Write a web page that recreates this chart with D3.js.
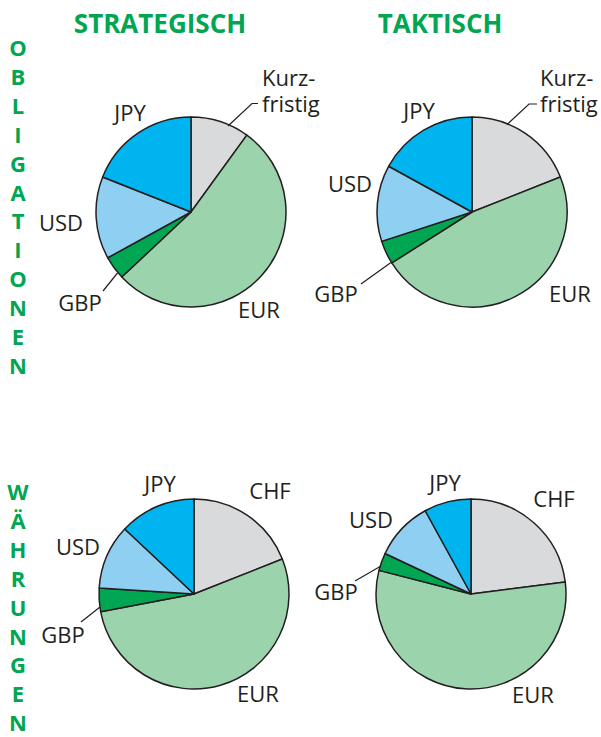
<!DOCTYPE html>
<meta charset="utf-8">
<style>
body { margin:0; background:#fff; }
text { font-family: "Open Sans", sans-serif; fill:#231f20; }
.head { font-weight:bold; fill:#00a651; }
.slice { stroke:#231f20; stroke-width:1.5; stroke-linejoin:round; }
.leader { fill:none; stroke:#231f20; stroke-width:1.2; }
</style>
<body>
<script src="https://cdn.jsdelivr.net/npm/d3@7"></script>
<script>

var width = 601, height = 737;

// slices clockwise from 12 o'clock
var bondKeys = ["Kurzfristig","EUR","GBP","USD","JPY"];
var fxKeys   = ["CHF","EUR","GBP","USD","JPY"];
var bondStrat = [10, 53, 4, 14, 19];
var bondTakt  = [19, 47, 4, 13, 17];
var fxStrat   = [19, 53, 4, 11, 13];
var fxTakt    = [23, 56, 3, 10, 8];

var columnTitles = ["STRATEGISCH","TAKTISCH"];
var rowTitles = ["OBLIGATIONEN","WÄHRUNGEN"];

var colors = {
    Kurzfristig:"#d9dadb", CHF:"#d9dadb",
    EUR:"#9bd3ad", GBP:"#00a651", USD:"#8ecff2", JPY:"#00b5ef"
};

// layout: centres, label anchors, leader lines
var pies = [
  {keys:bondKeys, values:bondStrat, cx:191, cy:212,
   labels:[{t:["Kurz-","fristig"],x:262,y:86,a:"start"},
           {t:["JPY"],x:130,y:121},{t:["USD"],x:61,y:231},{t:["GBP"],x:80,y:311},{t:["EUR"],x:259,y:318}],
   leaders:[[[258,103.5],[252,103.5],[228,126]],[[103,291],[117.5,273]]]},
  {keys:bondKeys, values:bondTakt, cx:472, cy:212,
   labels:[{t:["Kurz-","fristig"],x:540,y:86,a:"start"},
           {t:["JPY"],x:419,y:119},{t:["USD"],x:350,y:192},{t:["GBP"],x:336,y:302},{t:["EUR"],x:570,y:302}],
   leaders:[[[537,104],[529,104],[507,124.5]],[[361,284],[391,262.5]]]},
  {keys:fxKeys, values:fxStrat, cx:194, cy:594,
   labels:[{t:["JPY"],x:160,y:492},{t:["CHF"],x:270,y:499},{t:["USD"],x:78,y:555},
           {t:["GBP"],x:63,y:643},{t:["EUR"],x:258,y:702}],
   leaders:[[[81,622],[100,607]]]},
  {keys:fxKeys, values:fxTakt, cx:471, cy:594,
   labels:[{t:["JPY"],x:445,y:491},{t:["CHF"],x:554,y:507},{t:["USD"],x:371,y:528},
           {t:["GBP"],x:336,y:600},{t:["EUR"],x:533,y:703}],
   leaders:[[[355,581],[381,566]]]}
];

var radius = 95;

var svg = d3.select("body").append("svg")
    .attr("width", width)
    .attr("height", height);

var pie = d3.pie().sort(null).value(function(d){return d.v;});
var arc = d3.arc().innerRadius(0).outerRadius(radius);
var line = d3.line();

pies.forEach(function(p){
    var rows = p.keys.map(function(k,i){ return {k:k, v:p.values[i]}; });
    var g = svg.append("g").attr("transform","translate("+p.cx+","+p.cy+")");
    g.selectAll(".slice")
        .data(pie(rows))
        .enter().append("path")
        .attr("class","slice")
        .attr("d", arc)
        .attr("fill", function(d){ return colors[d.data.k]; });

    svg.selectAll(null)
        .data(p.leaders)
        .enter().append("path")
        .attr("class","leader")
        .attr("d", line);

    var labels = svg.selectAll(null)
        .data(p.labels)
        .enter().append("text")
        .attr("y", function(d){return d.y;})
        .attr("text-anchor", function(d){return d.a || "middle";})
        .style("font-size","22px");
    labels.selectAll("tspan")
        .data(function(d){ return d.t.map(function(s){ return {s:s, x:d.x}; }); })
        .enter().append("tspan")
        .attr("x", function(d){return d.x;})
        .attr("dy", function(d,i){ return i ? 26 : 0; })
        .text(function(d){return d.s;});
});

// column headings
svg.selectAll(".head.col")
    .data(columnTitles)
    .enter().append("text")
    .attr("class","head col")
    .attr("x", function(d,i){ return [160,440][i]; })
    .attr("y", 33)
    .attr("text-anchor","middle")
    .style("font-size","26px")
    .text(function(d){return d;});

// vertical row headings, one letter per line
var rowTop = [56, 500];
rowTitles.forEach(function(t,r){
    svg.selectAll(null)
        .data(t.split(""))
        .enter().append("text")
        .attr("class","head")
        .attr("x", 18)
        .attr("y", function(d,i){ return rowTop[r] + i*28.9; })
        .attr("text-anchor","middle")
        .style("font-size","22px")
        .text(function(d){return d;});
});

</script>
